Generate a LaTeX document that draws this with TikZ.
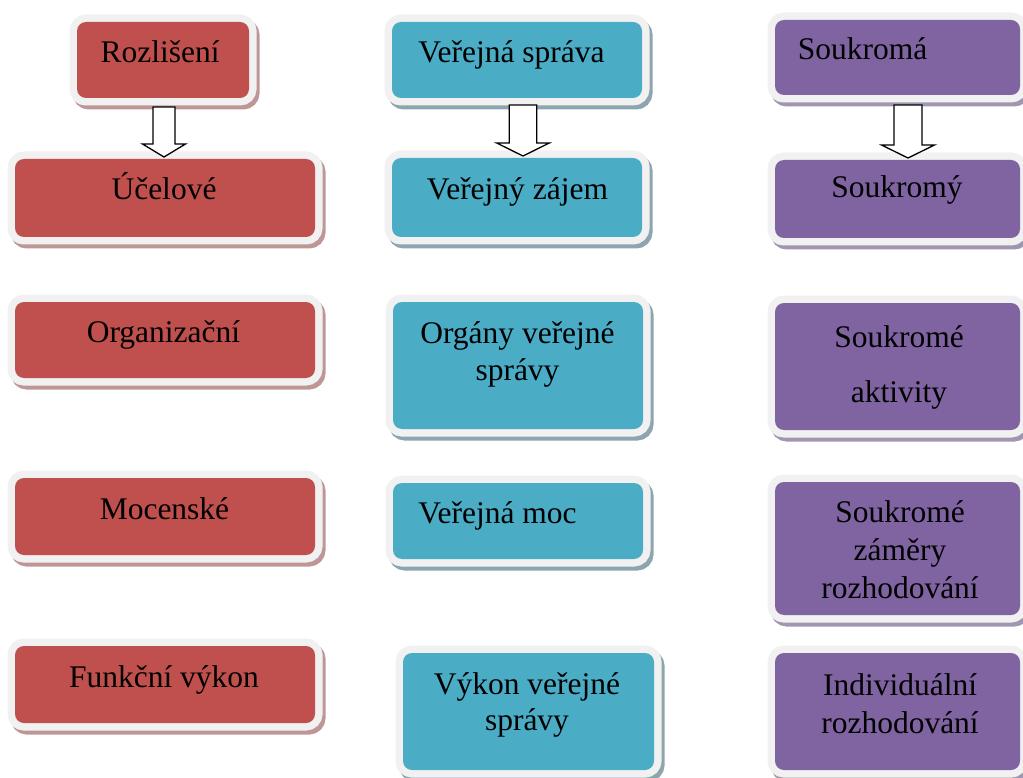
\documentclass[tikz,border=0pt]{standalone}
\usepackage{fontspec}
\setmainfont{Liberation Serif}
\usetikzlibrary{calc}
\definecolor{cred}{RGB}{192,80,77}
\definecolor{cblue}{RGB}{75,172,198}
\definecolor{cpurple}{RGB}{128,100,162}
\definecolor{sred}{RGB}{190,150,150}
\definecolor{sblue}{RGB}{140,165,175}
\definecolor{spurple}{RGB}{160,150,178}
\definecolor{framegray}{RGB}{241,241,241}
\tikzset{
  cbox/.style 2 args={rectangle, rounded corners=9pt, inner sep=0pt, outer sep=0pt, fill=#1,
    preaction={draw=#2, line width=15pt, transform canvas={shift={(3pt,-4pt)}}},
    preaction={draw=framegray, line width=15pt}},
  redbox/.style={cbox={cred}{sred}},
  bluebox/.style={cbox={cblue}{sblue}},
  purplebox/.style={cbox={cpurple}{spurple}},
  txt/.style={anchor=base, align=center, inner sep=0pt, font=\fontsize{31.5}{37}\selectfont},
  barrow/.style={draw=black, fill=white, line width=1.3pt, line join=miter}
}
% #1 start coordinate, #2 target anchor, #3 shaft half width, #4 head half width
\newcommand\blockarrow[4]{%
  \draw[barrow] let \p1=(#1), \p2=(#2) in
    (\x1-#3,\y1) -- (\x1-#3,\y2+15pt) -- (\x1-#4,\y2+15pt) -- (\x1,\y2+2pt)
    -- (\x1+#4,\y2+15pt) -- (\x1+#3,\y2+15pt) -- (\x1+#3,\y1) -- cycle;}
\begin{document}
\begin{tikzpicture}[x=1pt,y=-1pt]
\useasboundingbox (0,0) rectangle (1023,778);
\clip (0,0) rectangle (1023,778);
% red column
\node[redbox, minimum width=172pt, minimum height=76pt] (r1) at (163,60) {};
\node[redbox, minimum width=300pt, minimum height=78pt] (r2) at (165,198) {};
\node[redbox, minimum width=300pt, minimum height=76pt] (r3) at (165,340) {};
\node[redbox, minimum width=300pt, minimum height=77pt] (r4) at (165,516.5) {};
\node[redbox, minimum width=300pt, minimum height=77pt] (r5) at (165,684.5) {};
% blue column
\node[bluebox, minimum width=250pt, minimum height=76pt] (u1) at (517,60) {};
\node[bluebox, minimum width=250pt, minimum height=79pt] (u2) at (517,197.5) {};
\node[bluebox, minimum width=250pt, minimum height=127pt] (u3) at (518,365.5) {};
\node[bluebox, minimum width=250pt, minimum height=76pt] (u4) at (518,521) {};
\node[bluebox, minimum width=251pt, minimum height=117pt] (u5) at (528.5,711.5) {};
% purple column
\node[purplebox, minimum width=245pt, minimum height=75pt] (p1) at (897.5,57.5) {};
\node[purplebox, minimum width=245pt, minimum height=78pt] (p2) at (897.5,199) {};
\node[purplebox, minimum width=245pt, minimum height=127pt] (p3) at (897.5,366.5) {};
\node[purplebox, minimum width=245pt, minimum height=133pt] (p4) at (897.5,548.5) {};
\node[purplebox, minimum width=245pt, minimum height=117pt] (p5) at (897.5,711.5) {};
% arrows
\coordinate (s1) at (164,107);
\coordinate (s2) at (523,105);
\coordinate (s3) at (908,105);
\blockarrow{s1}{r2.north}{11pt}{21.5pt}
\blockarrow{s2}{u2.north}{13.7pt}{26.3pt}
\blockarrow{s3}{p2.north}{14pt}{26.5pt}
% texts (multi-line nodes are anchored at the baseline of their last line)
\node[txt] (tr1) at (160,63) {Rozlišení};
\node[txt] (tr2) at (164,200) {Účelové};
\node[txt] (tr3) at (163.5,342) {Organizační};
\node[txt] (tr4) at (164.5,519) {Mocenské};
\node[txt] (tr5) at (164,687) {Funkční výkon};
\node[txt] (tu1) at (511.5,63) {Veřejná správa};
\node[txt] (tu2) at (517.5,200) {Veřejný zájem};
\node[txt] (tu3) at (517.5,380) {Orgány veřejné\\správy};
\node[txt] (tu4) at (497.5,523) {Veřejná moc};
\node[txt, font=\fontsize{31.5}{36}\selectfont] (tu5) at (527,730) {Výkon veřejné\\správy};
\node[txt] (tp1) at (862.5,60) {Soukromá};
\node[txt] (tp2) at (897,198) {Soukromý};
\node[txt] (tp3) at (899,402) {Soukromé\\[18pt]aktivity};
\node[txt, font=\fontsize{31.5}{38}\selectfont] (tp4) at (900,598) {Soukromé\\záměry\\rozhodování};
\node[txt, font=\fontsize{31.5}{38}\selectfont] (tp5) at (900,733) {Individuální\\rozhodování};
\end{tikzpicture}
\end{document}
